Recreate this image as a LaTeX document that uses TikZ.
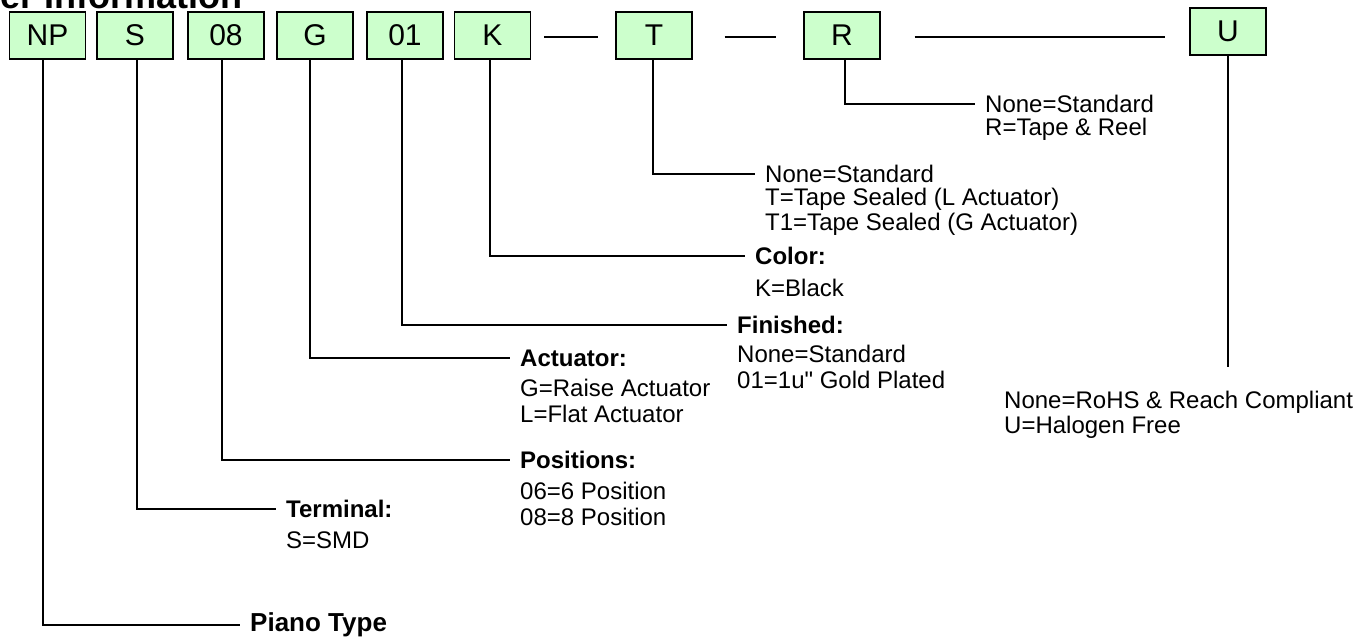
\documentclass[tikz,border=0pt]{standalone}
\usepackage{fontspec}
\setmainfont{Liberation Sans}[Ligatures=TeXOff]
\definecolor{boxgreen}{HTML}{CCFFCC}
\begin{document}
\begin{tikzpicture}[x=1pt,y=-1pt,
  box/.style={draw=black, line width=1.3pt, fill=boxgreen, minimum width=76pt, minimum height=47pt, inner sep=0pt, font=\fontsize{30}{32}\selectfont},
  txt/.style={inner xsep=10pt, inner ysep=0pt, anchor=west, font=\fontsize{24}{26}\selectfont},
  head/.style={txt, font=\fontsize{24}{26}\selectfont\bfseries},
  conn/.style={line width=2.5pt}]
\useasboundingbox (0,0) rectangle (1361,640);

% title (cut off at top)
\node[anchor=base west, inner sep=0pt, font=\fontsize{36}{40}\selectfont\bfseries] (title) at (-64,8) {Order Information};

% part-number boxes
\node[box] (np) at (47.5,35.5) {NP};
\node[box] (s)  at (135,35.5) {S};
\node[box] (p8) at (226,35.5) {08};
\node[box] (g)  at (315,35.5) {G};
\node[box] (f)  at (405,35.5) {01};
\node[box] (k)  at (492.5,35.5) {K};
\node[box] (t)  at (654,35.5) {T};
\node[box] (r)  at (842,35.5) {R};
\node[box] (u)  at (1228,31.5) {U};

% dashes between boxes
\draw[conn] ([xshift=13pt,yshift=-1.5pt]k.east) -- ([xshift=-17pt,yshift=-1.5pt]t.west);
\draw[conn] ([xshift=32pt,yshift=-1.5pt]t.east) -- ([xshift=-27pt,yshift=-1.5pt]r.west);
\draw[conn] ([xshift=34pt,yshift=-1.5pt]r.east) -- ([xshift=-24pt,yshift=-1.5pt]u.west |- r.east);

% R
\node[txt] (r1) at (975,104) {None=Standard};
\node[txt] (r2) at (975,129) {R=Tape \& Reel};
\draw[conn] ([xshift=3pt]r.south) |- (r1.west);

% T
\node[txt] (t1) at (755,174) {None=Standard};
\node[txt] (t2) at (755,199) {T=Tape Sealed (L Actuator)};
\node[txt] (t3) at (755,224) {T1=Tape Sealed (G Actuator)};
\draw[conn] ([xshift=-1pt]t.south) |- (t1.west);

% K
\node[head] (k1) at (745,256) {Color:};
\node[txt] (k2) at (745,288) {K=Black};
\draw[conn] ([xshift=-2.5pt]k.south) |- (k1.west);

% 01
\node[head] (f1) at (727,325) {Finished:};
\node[txt] (f2) at (727,354) {None=Standard};
\node[txt] (f3) at (727,380) {01=1u" Gold Plated};
\draw[conn] ([xshift=-3pt]f.south) |- (f1.west);

% G
\node[head] (g1) at (510,358) {Actuator:};
\node[txt] (g2) at (510,388) {G=Raise Actuator};
\node[txt] (g3) at (510,414) {L=Flat Actuator};
\draw[conn] ([xshift=-5pt]g.south) |- (g1.west);

% 08
\node[head] (p1) at (510,460) {Positions:};
\node[txt] (p2) at (510,491) {06=6 Position};
\node[txt] (p3) at (510,517) {08=8 Position};
\draw[conn] ([xshift=-4pt]p8.south) |- (p1.west);

% S
\node[head] (s1) at (276,509) {Terminal:};
\node[txt] (s2) at (276,540) {S=SMD};
\draw[conn] ([xshift=2pt]s.south) |- (s1.west);

% NP
\node[txt, font=\fontsize{26}{28}\selectfont\bfseries] (pt) at (240,625) {Piano Type};
\draw[conn] ([xshift=-4.5pt]np.south) |- (pt.west);

% U
\coordinate (uend) at (1228,367);
\draw[conn] (u.south) -- (uend);
\node[txt] (u1) at (994,402) {None=RoHS \& Reach Compliant};
\node[txt] (u2) at (994,427) {U=Halogen Free};
\end{tikzpicture}
\end{document}
